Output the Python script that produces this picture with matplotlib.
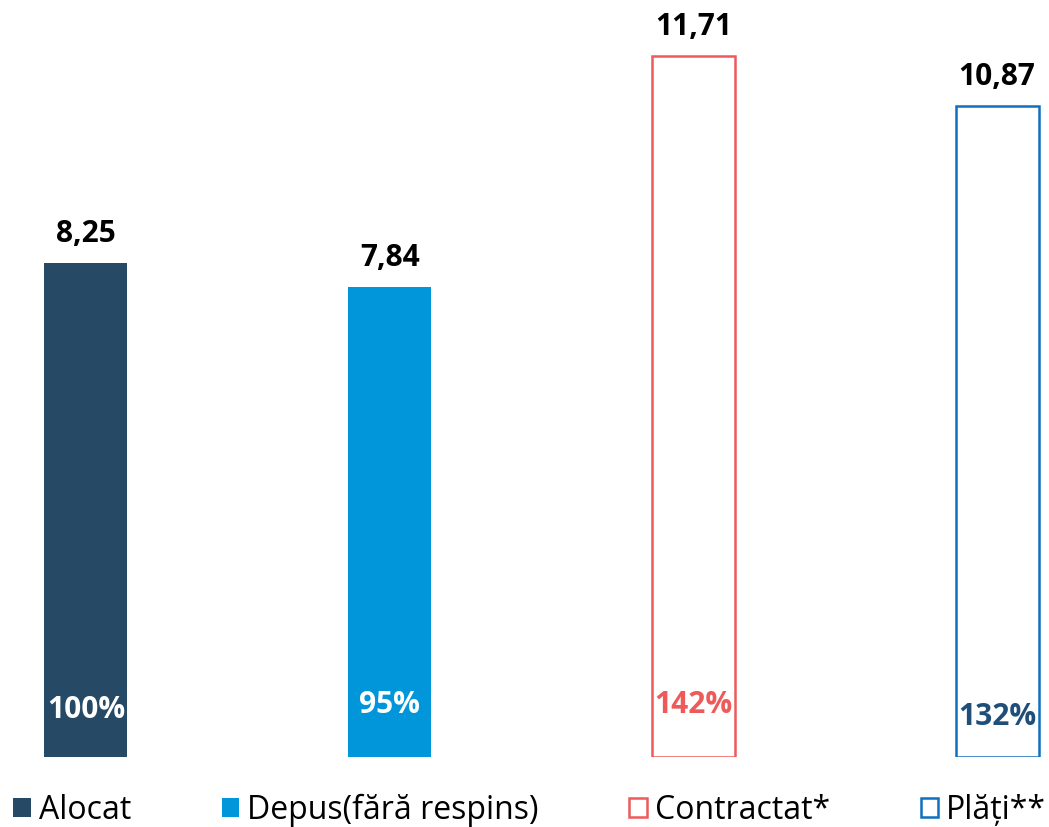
import matplotlib.pyplot as plt
from matplotlib.patches import Patch

plt.rcParams['font.family'] = ['Open Sans', 'DejaVu Sans']

# data
categories = ['Alocat', 'Depus(fără respins)', 'Contractat*', 'Plăți**']
values = [8.25, 7.84, 11.71, 10.87]
value_labels = ['8,25', '7,84', '11,71', '10,87']
pct_labels = ['100%', '95%', '142%', '132%']

# styles
face_colors = ['#264a66', '#0096d9', 'white', 'white']
edge_colors = ['#264a66', '#0096d9', '#ee5a5a', '#1070c0']
pct_colors = ['white', 'white', '#ee5a5a', '#1f4e79']
pct_y = [0.78, 0.87, 0.87, 0.67]

fig = plt.figure(figsize=(10.49, 8.27), dpi=100)
ax = fig.add_axes([0, 70 / 827, 1, 757 / 827])

x = range(len(values))
for i in x:
    ax.bar(i, values[i], width=0.273, color=face_colors[i],
           edgecolor=edge_colors[i], linewidth=1.8 if i > 1 else 0)
    ax.annotate(value_labels[i], (i, values[i]), xytext=(0, 21),
                textcoords='offset points', ha='center', va='center',
                fontsize=21.5, fontweight='bold', color='black')
    ax.text(i, pct_y[i], pct_labels[i], ha='center', va='center',
            fontsize=21.5, fontweight='bold', color=pct_colors[i])

ax.set_xlim(-0.283, 3.171)
ax.set_ylim(0, 12.64)
ax.axis('off')

handles = [Patch(facecolor=face_colors[i], edgecolor=edge_colors[i],
                 linewidth=1.8 if i > 1 else 0, label=categories[i])
           for i in x]
fig.legend(handles=handles, ncol=4, loc='center left',
           bbox_to_anchor=(13 / 1049, 1 - 810 / 827), frameon=False,
           fontsize=23, handlelength=0.55, handleheight=0.55,
           handletextpad=0.25, columnspacing=2.84, borderpad=0,
           borderaxespad=0)

plt.savefig('out.png', dpi=100)
